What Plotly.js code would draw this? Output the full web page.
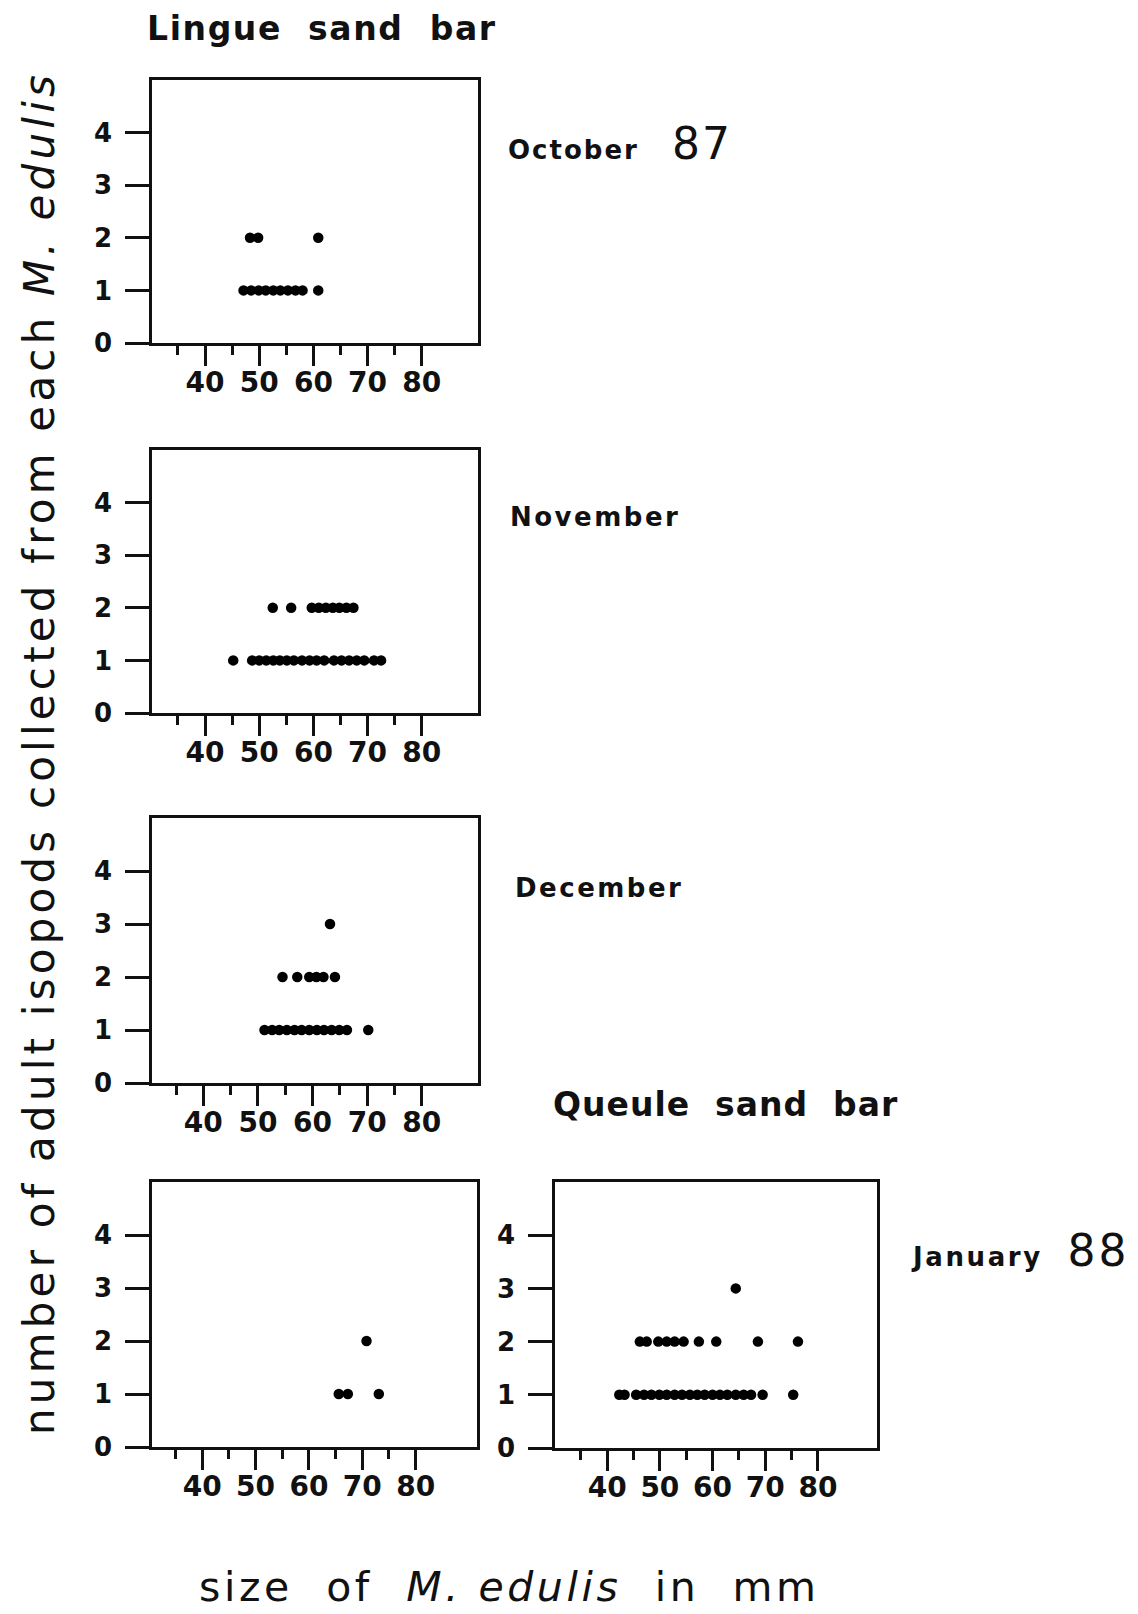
<!DOCTYPE html>
<html>
<head>
<meta charset="utf-8">
<script src="https://cdn.plot.ly/plotly-3.0.1.min.js"></script>
<style>
html,body{margin:0;padding:0;background:#fff;}
#chart{width:1138px;height:1614px;}
</style>
</head>
<body>
<div id="chart"></div>
<script>
// ---- data (shell length in mm, number of adult isopods per M. edulis) ----
const octSize   = [47.1, 48.5, 49.9, 51.2, 52.6, 53.9, 55.3, 56.7, 58.0, 60.9, 48.3, 49.8, 60.9];
const octCount  = [1, 1, 1, 1, 1, 1, 1, 1, 1, 1, 2, 2, 2];

const novSize   = [45.2, 48.7, 50.0, 51.3, 52.6, 53.8, 55.1, 56.4, 57.9, 59.3, 60.6, 62.0,
                   63.8, 65.2, 66.6, 68.0, 69.4, 71.2, 72.5,
                   52.5, 55.9, 59.7, 61.0, 62.3, 63.6, 64.8, 66.1, 67.4];
const novCount  = [1, 1, 1, 1, 1, 1, 1, 1, 1, 1, 1, 1,
                   1, 1, 1, 1, 1, 1, 1,
                   2, 2, 2, 2, 2, 2, 2, 2, 2];

const decSize   = [51.2, 52.6, 53.9, 55.3, 56.7, 58.0, 59.4, 60.8, 62.1, 63.5, 64.9, 66.3, 70.2,
                   54.5, 57.2, 59.4, 60.7, 62.0, 64.1, 63.2];
const decCount  = [1, 1, 1, 1, 1, 1, 1, 1, 1, 1, 1, 1, 1,
                   2, 2, 2, 2, 2, 2, 3];

const janLingueSize  = [65.6, 67.3, 73.1, 70.8];
const janLingueCount = [1, 1, 1, 2];

const janQueuleSize  = [42.3, 43.3, 45.5, 47.0, 48.4, 49.9, 51.3, 52.8, 54.2, 55.7, 57.1, 58.5,
                        60.0, 61.4, 62.8, 64.4, 65.9, 67.3, 69.5, 75.3,
                        46.2, 47.5, 49.7, 51.3, 52.8, 54.5, 57.4, 60.7, 68.6, 76.2, 64.4];
const janQueuleCount = [1, 1, 1, 1, 1, 1, 1, 1, 1, 1, 1, 1,
                        1, 1, 1, 1, 1, 1, 1, 1,
                        2, 2, 2, 2, 2, 2, 2, 2, 2, 2, 3];

const xTickVals   = [40, 50, 60, 70, 80];
const xTickText   = ['40', '50', '60', '70', '80'];
const xMinorVals  = [35, 45, 55, 65, 75];
const yTickVals   = [0, 1, 2, 3, 4];
const yTickText   = ['0', '1', '2', '3', '4'];

const siteTitles  = ['Lingue  sand  bar', 'Queule  sand  bar'];
const monthLabels = ['October', 'November', 'December', 'January'];
const yearLabels  = ['87', '88'];

// ---- layout helpers (page pixels -> paper fractions) ----
const W = 1138, H = 1614;
const px = v => v / W;
const py = v => 1 - v / H;

const FONT = 'DejaVu Sans, sans-serif';
const INK = '#111';

const panels = [
  {size: octSize, count: octCount, box: [152, 478, 80, 343],  xr: [30.2, 90.4]},
  {size: novSize, count: novCount, box: [152, 478, 450, 713], xr: [30.2, 90.4]},
  {size: decSize, count: decCount, box: [152, 478, 818, 1083], xr: [30.6, 90.3]},
  {size: janLingueSize, count: janLingueCount, box: [152, 477, 1182, 1447], xr: [30.6, 91.5]},
  {size: janQueuleSize, count: janQueuleCount, box: [555, 877, 1182, 1448], xr: [30.1, 91.2]}
];

const data = [];
const layout = {
  width: W, height: H,
  margin: {l: 0, r: 0, t: 0, b: 0},
  paper_bgcolor: '#fff', plot_bgcolor: '#fff',
  showlegend: false,
  font: {family: FONT, color: INK},
  annotations: []
};

panels.forEach((p, i) => {
  const n = i === 0 ? '' : String(i + 1);
  data.push({
    type: 'scatter', mode: 'markers',
    x: p.size, y: p.count,
    xaxis: 'x' + n, yaxis: 'y' + n,
    marker: {color: '#000', size: 10.5, line: {width: 0}},
    hoverinfo: 'x+y'
  });
  layout['xaxis' + n] = {
    domain: [px(p.box[0]), px(p.box[1])],
    anchor: 'y' + n,
    range: p.xr,
    showgrid: false, zeroline: false,
    showline: true, mirror: true, linecolor: INK, linewidth: 2.8,
    ticks: 'outside', ticklen: 20, tickwidth: 3, tickcolor: INK,
    ticklabelstandoff: -7,
    tickmode: 'array', tickvals: xTickVals, ticktext: xTickText,
    tickfont: {family: FONT, size: 28, color: INK, weight: 'bold'},
    minor: {tickmode: 'array', tickvals: xMinorVals, ticks: 'outside', ticklen: 9, tickwidth: 3, tickcolor: INK, showgrid: false}
  };
  layout['yaxis' + n] = {
    domain: [py(p.box[3]), py(p.box[2])],
    anchor: 'x' + n,
    range: [0, 5],
    showgrid: false, zeroline: false,
    showline: true, mirror: true, linecolor: INK, linewidth: 2.8,
    ticks: 'outside', ticklen: 24, tickwidth: 3, tickcolor: INK,
    tickmode: 'array', tickvals: yTickVals, ticktext: yTickText,
    ticklabelstandoff: 8,
    tickfont: {family: FONT, size: 26, color: INK, weight: 'bold'}
  };
});

const sp = (t, ls) => '<span style="letter-spacing:' + ls + 'px">' + t + '</span>';
const big = (t, fs, ls) => '<span style="font-size:' + fs + 'px;letter-spacing:' + ls + 'px">' + t + '</span>';

const ann = (text, x, y, size, opts) => Object.assign({
  text: text, xref: 'paper', yref: 'paper', x: px(x), y: py(y),
  xanchor: 'left', yanchor: 'middle', showarrow: false,
  font: {family: FONT, size: size, color: INK}
}, opts || {});

layout.annotations.push(
  ann('<b>' + sp(siteTitles[0], 1.6) + '</b>', 145, 28, 33),
  ann('<b>' + sp(siteTitles[1], 1.0) + '</b>', 551, 1104, 33),
  ann('<b>' + sp(monthLabels[0], 2) + '</b>    ' + big(yearLabels[0], 44, 2), 506, 144, 26),
  ann('<b>' + sp(monthLabels[1], 2.5) + '</b>', 508, 517, 26),
  ann('<b>' + sp(monthLabels[2], 2.5) + '</b>', 513, 888, 26),
  ann('<b>' + sp(monthLabels[3], 2.6) + '</b>   ' + big(yearLabels[1], 44, 3), 909, 1250, 26),
  ann(sp('size  of  <i>M. edulis</i>  in  mm', 3.6), 509, 1587, 41, {xanchor: 'center'}),
  ann(sp('number of adult isopods collected from each <i>M. edulis</i>', 4.2), 39, 753, 42,
      {xanchor: 'center', textangle: -90})
);

Plotly.newPlot('chart', data, layout, {displayModeBar: false, staticPlot: true});
</script>
</body>
</html>
